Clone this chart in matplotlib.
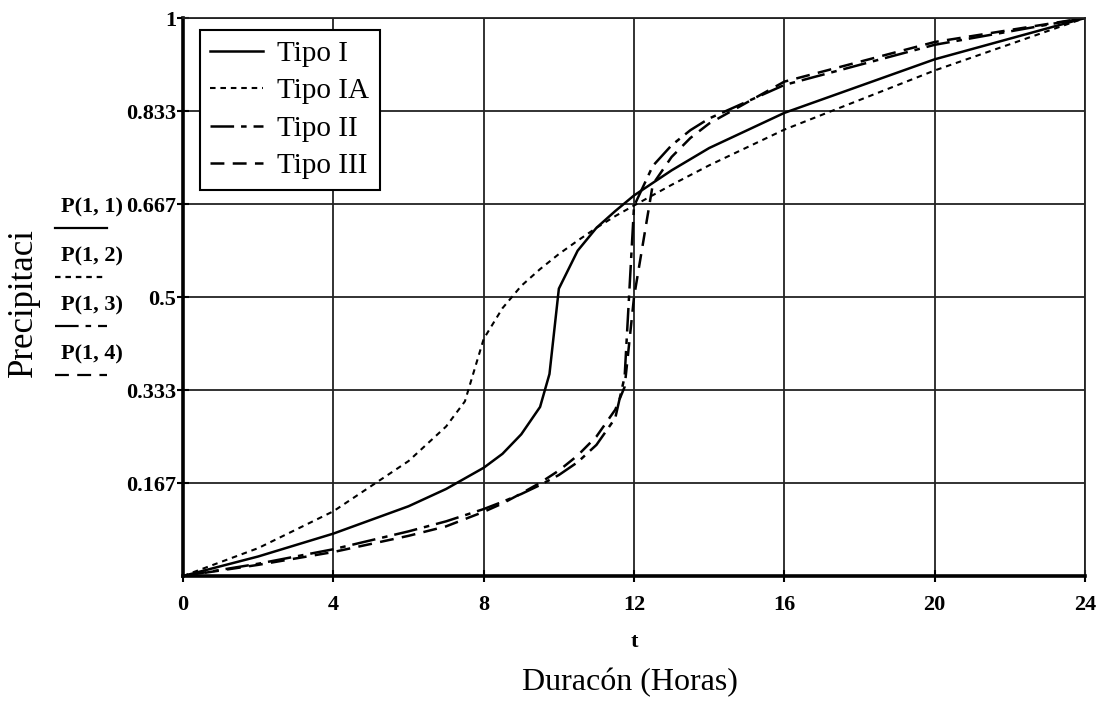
import matplotlib.pyplot as plt
from matplotlib.lines import Line2D
import numpy as np

plt.rcParams['font.family'] = ['Liberation Serif', 'DejaVu Serif']
plt.rcParams['lines.scale_dashes'] = False

# Distribuciones SCS de 24 horas (P/P24)
t_I = [0, 2, 4, 6, 7, 8, 8.5, 9, 9.5, 9.75, 10, 10.5, 11, 11.5, 12, 13, 14, 16, 20, 24]
p_I = [0, 0.035, 0.076, 0.125, 0.156, 0.194, 0.219, 0.254, 0.303, 0.362, 0.515,
       0.583, 0.624, 0.654, 0.682, 0.727, 0.767, 0.830, 0.926, 1.0]

t_IA = [0, 2, 4, 6, 7, 7.5, 8, 8.5, 9, 9.5, 10, 10.5, 11, 11.5, 12, 13, 14, 16, 20, 24]
p_IA = [0, 0.050, 0.116, 0.206, 0.268, 0.313, 0.425, 0.480, 0.520, 0.550, 0.577,
        0.601, 0.624, 0.645, 0.664, 0.701, 0.736, 0.800, 0.906, 1.0]

t_II = [0, 2, 4, 6, 7, 8, 8.5, 9, 9.5, 9.75, 10, 10.5, 11, 11.5, 11.75, 12,
        12.5, 13, 13.5, 14, 16, 20, 24]
p_II = [0, 0.022, 0.048, 0.080, 0.098, 0.120, 0.133, 0.147, 0.163, 0.172, 0.181,
        0.204, 0.235, 0.283, 0.357, 0.663, 0.735, 0.772, 0.799, 0.820, 0.880, 0.952, 1.0]

t_III = [0, 2, 4, 6, 7, 8, 8.5, 9, 9.5, 9.75, 10, 10.5, 11, 11.5, 11.75, 12,
         12.5, 13, 13.5, 14, 16, 20, 24]
p_III = [0, 0.020, 0.043, 0.072, 0.089, 0.115, 0.130, 0.148, 0.167, 0.178, 0.189,
         0.216, 0.250, 0.298, 0.339, 0.500, 0.702, 0.751, 0.785, 0.811, 0.886, 0.957, 1.0]

x_ticks = [0, 4, 8, 12, 16, 20, 24]
y_ticks = [1/6, 2/6, 3/6, 4/6, 5/6, 1]
y_labels = ['0.167', '0.333', '0.5', '0.667', '0.833', '1']

dash_IA = (0, (4, 3.5))
dash_II = (0, (17, 5, 4, 5))
dash_III = (0, (10, 6))

fig = plt.figure(figsize=(11.04, 7.01), dpi=100)
ax = fig.add_axes([0.1658, 0.1783, 0.817, 0.796])

ax.plot(t_I, p_I, color='black', lw=1.8, linestyle='-', label='Tipo I')
ax.plot(t_IA, p_IA, color='black', lw=1.5, linestyle=dash_IA, label='Tipo IA')
ax.plot(t_II, p_II, color='black', lw=1.8, linestyle=dash_II, label='Tipo II')
ax.plot(t_III, p_III, color='black', lw=1.8, linestyle=dash_III, label='Tipo III')

ax.set_xlim(0, 24)
ax.set_ylim(0, 1)
ax.set_xticks(x_ticks)
ax.set_yticks(y_ticks)
ax.set_yticklabels(y_labels)
ax.grid(True, color='#222222', lw=1.3)
ax.tick_params(direction='inout', length=8, width=1.5, labelsize=16, pad=1)
for lab in ax.get_xticklabels() + ax.get_yticklabels():
    lab.set_fontweight('bold')
ax.tick_params(axis='x', pad=10)

for s in ['left', 'bottom']:
    ax.spines[s].set_linewidth(2.6)
for s in ['top', 'right']:
    ax.spines[s].set_linewidth(1.3)
    ax.spines[s].set_color('#222222')

leg = ax.legend(loc='upper left', bbox_to_anchor=(0.019, 0.978), fontsize=21,
                frameon=True, fancybox=False, edgecolor='black', framealpha=1,
                handlelength=1.8, borderpad=0.35, labelspacing=0.38, handletextpad=0.5,
                borderaxespad=0)
leg.get_frame().set_linewidth(1.5)

ax.set_xlabel('t', fontsize=16, fontweight='bold', labelpad=12)
fig.text(0.571, 0.026, 'Duracón (Horas)', fontsize=23, ha='center', va='center')
fig.text(0.021, 0.569, 'Precipitaci', fontsize=25, rotation=90, ha='center', va='center')

# etiquetas de las series a la izquierda
side_labels = ['P(1, 1)', 'P(1, 2)', 'P(1, 3)', 'P(1, 4)']
side_styles = ['-', dash_IA, dash_II, dash_III]
for i, (txt, ls) in enumerate(zip(side_labels, side_styles)):
    y_txt = 1 - (207 + i * 49) / 701
    y_ln = 1 - (228 + i * 49) / 701
    fig.text(0.083, y_txt, txt, fontsize=16, fontweight='bold', ha='center', va='center')
    fig.add_artist(Line2D([0.05, 0.097], [y_ln, y_ln], transform=fig.transFigure,
                          color='black', lw=1.6, linestyle=ls))

fig.savefig('out.png', dpi=100)
